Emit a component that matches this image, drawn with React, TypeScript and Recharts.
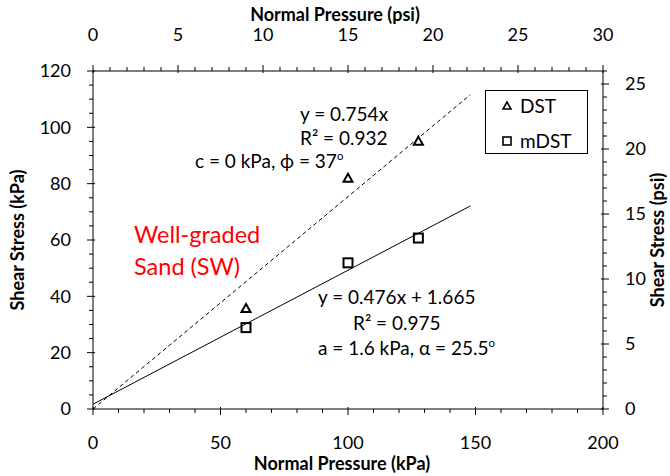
import React from 'react'
import { ScatterChart, Scatter, XAxis, YAxis, Legend } from 'recharts'

// measured points (kPa)
const DST = [
  { x: 60, y: 35.7 },
  { x: 100, y: 81.9 },
  { x: 127.6, y: 95.1 },
]
const MDST = [
  { x: 60, y: 28.9 },
  { x: 100, y: 51.9 },
  { x: 127.6, y: 60.7 },
]
// trendline ends as drawn
const DST_FIT = [
  { x: 0, y: 0 },
  { x: 148, y: 111.6 },
]
const MDST_FIT = [
  { x: 0, y: 1.7 },
  { x: 148, y: 72.1 },
]

const KPA_X_MAJOR = [0, 50, 100, 150, 200]
const PSI_X_MAJOR = [0, 5, 10, 15, 20, 25, 30]
const KPA_Y_MAJOR = [0, 20, 40, 60, 80, 100, 120]
const PSI_Y_MAJOR = [0, 5, 10, 15, 20, 25]

const KPA_X_MINOR = 10
const PSI_X_MINOR = 1
const KPA_Y_MINOR = 5
const PSI_Y_MINOR = 1

const FONT = 'Lato, "Open Sans", sans-serif'

const steps = (max: number, step: number) => {
  const out: number[] = []
  for (let v = 0; v <= max + 1e-9; v += step) out.push(Math.round(v * 100) / 100)
  return out
}

type Side = 'bottom' | 'top' | 'left' | 'right'

function AxisTick(props: any) {
  const { x, y, payload, side, majors } = props
  const v = payload.value
  const major = (majors as number[]).includes(v)
  const out = major ? 6 : 4
  const inn = major ? 2 : 0
  let line
  let label = null
  const ts = { fontFamily: FONT, fontSize: 18, fill: '#000' }
  if (side === 'bottom') {
    line = <line x1={x} x2={x} y1={y - inn} y2={y + out} stroke="#000" />
    if (major) label = <text x={x} y={y + 34} dy="0.35em" textAnchor="middle" style={ts}>{v}</text>
  } else if (side === 'top') {
    line = <line x1={x} x2={x} y1={y + inn} y2={y - out} stroke="#000" />
    if (major) label = <text x={x} y={y - 36} dy="0.35em" textAnchor="middle" style={ts}>{v}</text>
  } else if (side === 'left') {
    line = <line x1={x + inn} x2={x - out} y1={y} y2={y} stroke="#000" />
    if (major) label = <text x={x - 22} y={y} dy="0.35em" textAnchor="end" style={ts}>{v}</text>
  } else {
    line = <line x1={x - inn} x2={x + out} y1={y} y2={y} stroke="#000" />
    if (major) label = <text x={x + 22} y={y} dy="0.35em" textAnchor="start" style={ts}>{v}</text>
  }
  return (
    <g>
      {line}
      {label}
    </g>
  )
}

const tickFor = (side: Side, majors: number[]) => (p: any) => <AxisTick {...p} side={side} majors={majors} />

const titleStyle = { fontFamily: FONT, fontSize: 18, fontWeight: 700, fill: '#000' }

const Triangle = (p: any) => {
  const { cx, cy } = p
  return (
    <polygon
      points={`${cx},${cy - 4.5} ${cx + 4.5},${cy + 3.5} ${cx - 4.5},${cy + 3.5}`}
      fill="none"
      stroke="#000"
      strokeWidth={2}
    />
  )
}

const Square = (p: any) => {
  const { cx, cy } = p
  return <rect x={cx - 4.5} y={cy - 4.5} width={9} height={9} fill="none" stroke="#000" strokeWidth={2} />
}

const NoDot = () => <g />

function LegendBox({ payload }: any) {
  const items = (payload || []).filter((e: any) => e.value === 'DST' || e.value === 'mDST')
  return (
    <div
      style={{
        position: 'relative',
        width: 103,
        height: 64,
        border: '1px solid #000',
        boxSizing: 'border-box',
        background: '#fff',
        fontFamily: FONT,
        fontSize: 19,
      }}
    >
      {items.map((e: any, i: number) => (
        <div key={e.value} style={{ position: 'absolute', left: 0, top: i === 0 ? 3 : 38, height: 24, lineHeight: '24px', width: '100%' }}>
          <svg width={14} height={14} style={{ position: 'absolute', left: 14, top: 5 }}>
            {e.value === 'DST' ? (
              <polygon points="7,3 11,10 3,10" fill="none" stroke="#000" strokeWidth={1.6} />
            ) : (
              <rect x={3} y={3} width={8} height={8} fill="none" stroke="#000" strokeWidth={1.6} />
            )}
          </svg>
          <span style={{ position: 'absolute', left: 34 }}>{e.value}</span>
        </div>
      ))}
    </div>
  )
}

function Note({ x, cy, size = 19, color = '#000', children }: any) {
  const lh = Math.round(size * 1.2)
  return (
    <div
      style={{
        position: 'absolute',
        left: x,
        top: cy - lh / 2,
        lineHeight: `${lh}px`,
        fontSize: size,
        fontFamily: FONT,
        color,
        whiteSpace: 'nowrap',
      }}
    >
      {children}
    </div>
  )
}

const Deg = () => <span style={{ fontSize: '0.6em', verticalAlign: 'top', lineHeight: 1.2 }}>o</span>

export default function App() {
  return (
    <div style={{ position: 'absolute', left: 0, top: 0, width: 670, height: 476, background: '#fff' }}>
      <ScatterChart width={670} height={476} margin={{ top: 0, right: 0, bottom: 0, left: 0 }}>
        <XAxis
          xAxisId="kpa"
          orientation="bottom"
          type="number"
          dataKey="x"
          domain={[0, 200]}
          ticks={steps(200, KPA_X_MINOR)}
          interval={0}
          height={67}
          tickSize={0}
          tickMargin={0}
          axisLine={{ stroke: '#000' }}
          tickLine={false}
          tick={tickFor('bottom', KPA_X_MAJOR)}
          allowDataOverflow
          label={{
            content: (p: any) => {
              const vb = p.viewBox
              return (
                <text x={vb.x + vb.width / 2 - 6} y={vb.y + 61} textAnchor="middle" style={titleStyle}>
                  Normal Pressure (kPa)
                </text>
              )
            },
          }}
        />
        <XAxis
          xAxisId="psi"
          orientation="top"
          type="number"
          dataKey="x"
          domain={[0, 30]}
          ticks={steps(30, PSI_X_MINOR)}
          interval={0}
          height={71}
          tickSize={0}
          tickMargin={0}
          axisLine={{ stroke: '#000' }}
          tickLine={false}
          tick={tickFor('top', PSI_X_MAJOR)}
          allowDataOverflow
          label={{
            content: (p: any) => {
              const vb = p.viewBox
              return (
                <text x={vb.x + vb.width / 2 - 13} y={vb.y + 21} textAnchor="middle" style={titleStyle}>
                  Normal Pressure (psi)
                </text>
              )
            },
          }}
        />
        <YAxis
          yAxisId="kpa"
          orientation="left"
          type="number"
          dataKey="y"
          domain={[0, 120]}
          ticks={steps(120, KPA_Y_MINOR)}
          interval={0}
          width={93}
          tickSize={0}
          tickMargin={0}
          axisLine={{ stroke: '#000' }}
          tickLine={false}
          tick={tickFor('left', KPA_Y_MAJOR)}
          allowDataOverflow
          label={{
            content: (p: any) => {
              const vb = p.viewBox
              const cx = 18
              const cy = vb.y + vb.height / 2
              return (
                <text x={cx} y={cy} dy="0.35em" textAnchor="middle" transform={`rotate(-90, ${cx}, ${cy})`} style={titleStyle}>
                  Shear Stress (kPa)
                </text>
              )
            },
          }}
        />
        <YAxis
          yAxisId="psi"
          orientation="right"
          type="number"
          dataKey="y"
          domain={[0, 26]}
          ticks={steps(26, PSI_Y_MINOR)}
          interval={0}
          width={67}
          tickSize={0}
          tickMargin={0}
          axisLine={{ stroke: '#000' }}
          tickLine={false}
          tick={tickFor('right', PSI_Y_MAJOR)}
          allowDataOverflow
          label={{
            content: (p: any) => {
              const vb = p.viewBox
              const cx = vb.x + 55
              const cy = vb.y + vb.height / 2
              return (
                <text x={cx} y={cy} dy="0.35em" textAnchor="middle" transform={`rotate(-90, ${cx}, ${cy})`} style={titleStyle}>
                  Shear Stress (psi)
                </text>
              )
            },
          }}
        />
        <Legend
          layout="vertical"
          align="center"
          verticalAlign="middle"
          wrapperStyle={{ left: 485, top: 90, width: 103, height: 64 }}
          content={(p: any) => <LegendBox payload={p.payload} />}
        />
        <Scatter
          name="DST fit"
          data={DST_FIT}
          xAxisId="kpa"
          yAxisId="kpa"
          line={{ stroke: '#000', strokeWidth: 1, strokeDasharray: '4 3' }}
          shape={NoDot}
          legendType="none"
          isAnimationActive={false}
        />
        <Scatter
          name="mDST fit"
          data={MDST_FIT}
          xAxisId="kpa"
          yAxisId="kpa"
          line={{ stroke: '#000', strokeWidth: 1 }}
          shape={NoDot}
          legendType="none"
          isAnimationActive={false}
        />
        <Scatter name="DST" data={DST} xAxisId="kpa" yAxisId="kpa" shape={Triangle} isAnimationActive={false} />
        <Scatter name="mDST" data={MDST} xAxisId="kpa" yAxisId="kpa" shape={Square} isAnimationActive={false} />
      </ScatterChart>

      <Note x={300} cy={113}>y = 0.754x</Note>
      <Note x={300} cy={137}>R² = 0.932</Note>
      <Note x={195} cy={160}>
        c = 0 kPa, ϕ = 37<Deg />
      </Note>
      <Note x={134} cy={234} size={23.5} color="#ff0000">Well-graded</Note>
      <Note x={134} cy={266} size={23.5} color="#ff0000">Sand (SW)</Note>
      <Note x={318} cy={296}>y = 0.476x + 1.665</Note>
      <Note x={353} cy={322}>R² = 0.975</Note>
      <Note x={318} cy={347}>
        a = 1.6 kPa, α = 25.5<Deg />
      </Note>
    </div>
  )
}
